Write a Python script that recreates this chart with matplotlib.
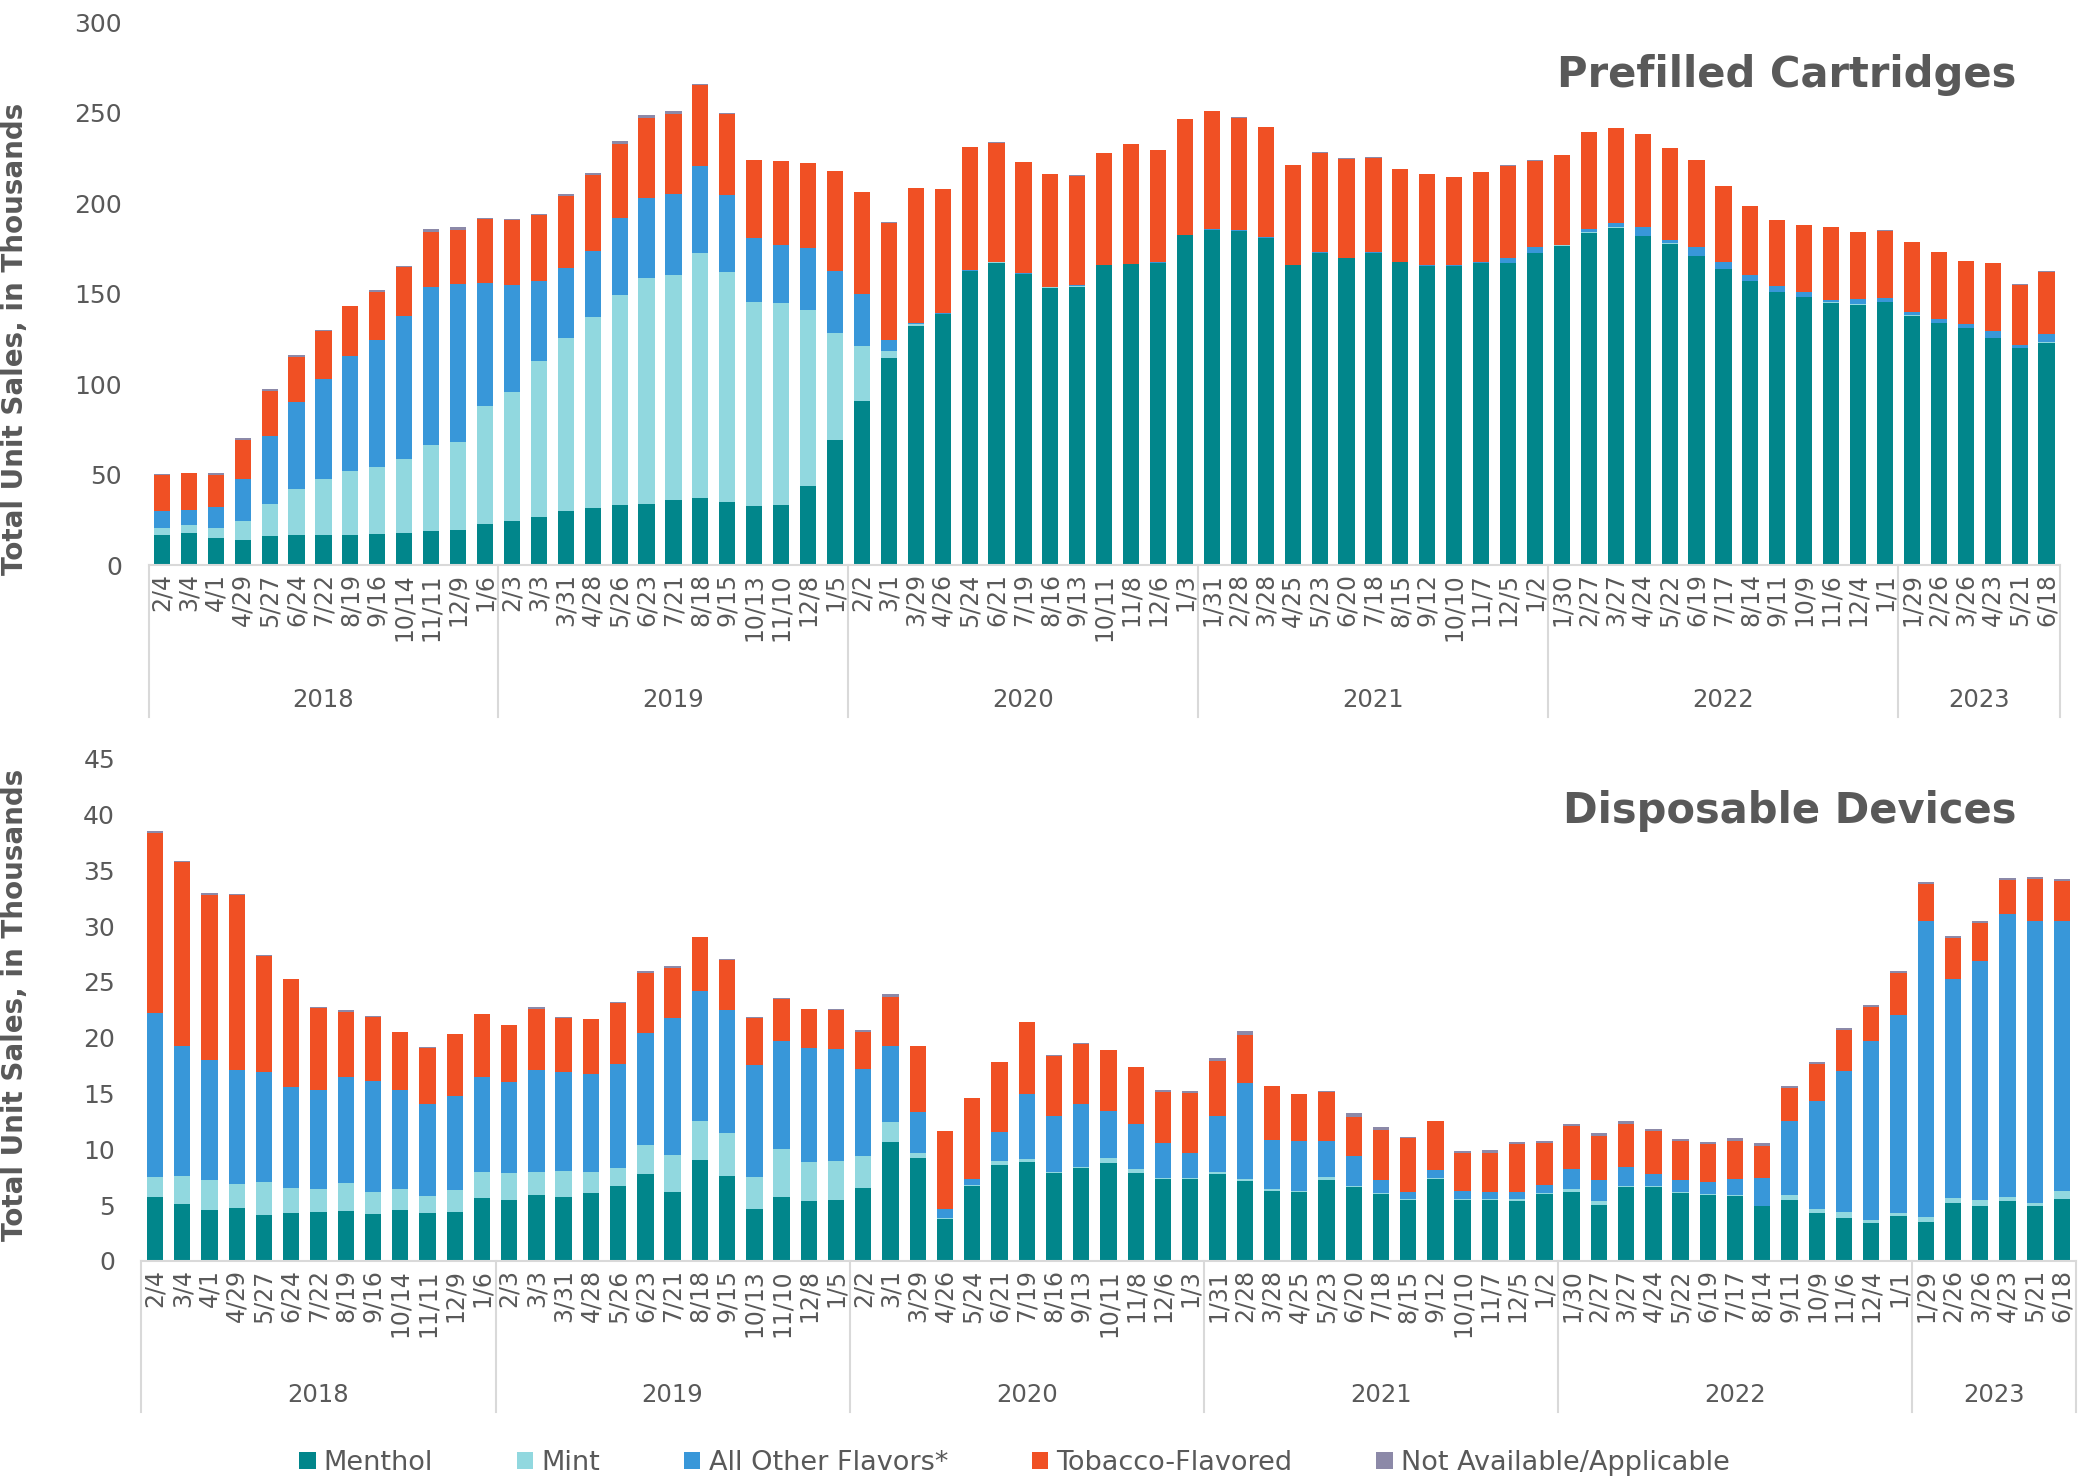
import matplotlib
matplotlib.use("Agg")
import matplotlib.pyplot as plt
import numpy as np
from matplotlib.patches import Patch
from matplotlib.transforms import blended_transform_factory

# period end dates, grouped by year (4-week periods)
years = ["2018", "2019", "2020", "2021", "2022", "2023"]
dates = [
    "2/4", "3/4", "4/1", "4/29", "5/27", "6/24", "7/22", "8/19", "9/16", "10/14", "11/11", "12/9", "1/6",
    "2/3", "3/3", "3/31", "4/28", "5/26", "6/23", "7/21", "8/18", "9/15", "10/13", "11/10", "12/8", "1/5",
    "2/2", "3/1", "3/29", "4/26", "5/24", "6/21", "7/19", "8/16", "9/13", "10/11", "11/8", "12/6", "1/3",
    "1/31", "2/28", "3/28", "4/25", "5/23", "6/20", "7/18", "8/15", "9/12", "10/10", "11/7", "12/5", "1/2",
    "1/30", "2/27", "3/27", "4/24", "5/22", "6/19", "7/17", "8/14", "9/11", "10/9", "11/6", "12/4", "1/1",
    "1/29", "2/26", "3/26", "4/23", "5/21", "6/18",
]
group_sizes = [13, 13, 13, 13, 13, 6]

# Prefilled cartridges (thousands)
pc_menthol = [
    16.4, 17.9, 14.9, 14.0, 16.0, 16.8, 16.4, 16.8, 17.4, 17.9, 18.7, 19.6, 22.8,
    24.5, 26.8, 29.8, 31.7, 33.0, 33.8, 35.7, 37.0, 34.9, 32.6, 33.4, 43.6, 69.1,
    90.9, 114.5, 132.1, 138.9, 162.6, 167.2, 160.9, 153.4, 154.0, 165.7, 166.2, 167.0, 182.3,
    185.3, 184.7, 180.9, 165.7, 172.6, 169.6, 172.6, 167.4, 165.3, 165.3, 167.0, 167.0, 172.3,
    176.6, 183.8, 186.6, 181.9, 177.7, 170.9, 163.6, 156.8, 151.1, 148.3, 145.1, 144.0, 145.3,
    137.9, 133.6, 131.1, 125.5, 119.8, 123.0,
]
pc_mint = [
    4.2, 4.0, 5.7, 10.5, 18.0, 25.5, 31.0, 35.1, 36.9, 40.6, 47.5, 48.3, 65.1,
    71.2, 86.0, 95.7, 105.5, 116.4, 124.9, 124.9, 135.3, 127.4, 113.1, 111.3, 97.5, 59.2,
    30.0, 3.6, 0.9, 0.1, 0.1, 0.1, 0.1, 0.1, 0.1, 0.1, 0.1, 0.1, 0.1,
    0.1, 0.1, 0.1, 0.1, 0.1, 0.1, 0.1, 0.1, 0.1, 0.1, 0.1, 0.1, 0.1,
    0.1, 0.1, 0.1, 0.1, 0.1, 0.1, 0.1, 0.1, 0.1, 0.1, 0.1, 0.1, 0.1,
    0.1, 0.1, 0.1, 0.1, 0.1, 0.1,
]
pc_other = [
    9.0, 8.5, 11.3, 23.2, 37.5, 47.7, 55.4, 63.6, 70.4, 79.4, 87.4, 87.4, 68.3,
    59.4, 44.0, 38.8, 36.6, 42.7, 44.1, 44.7, 48.1, 42.2, 35.2, 32.3, 34.0, 34.5,
    28.7, 6.6, 1.0, 0.2, 0.6, 0.2, 0.2, 0.2, 0.5, 0.2, 0.2, 0.2, 0.2,
    0.2, 0.3, 0.3, 0.3, 0.3, 0.3, 0.3, 0.3, 0.4, 0.5, 0.7, 2.5, 3.2,
    0.4, 1.9, 2.5, 4.9, 2.1, 5.1, 4.0, 3.6, 3.2, 2.8, 1.3, 3.2, 2.4,
    1.9, 2.3, 2.3, 4.0, 1.7, 4.9,
]
pc_tobacco = [
    20.4, 20.2, 17.9, 21.4, 24.7, 24.9, 26.8, 27.7, 26.2, 27.0, 30.7, 30.0, 35.3,
    35.8, 37.0, 39.7, 41.7, 40.9, 44.6, 44.3, 45.1, 45.1, 43.1, 46.2, 47.2, 55.1,
    56.8, 64.7, 74.5, 68.9, 67.6, 66.1, 61.6, 62.5, 60.7, 61.9, 66.3, 62.3, 64.2,
    65.5, 62.3, 61.0, 55.0, 55.1, 54.7, 52.3, 51.3, 50.4, 48.8, 49.6, 51.3, 48.0,
    49.5, 53.6, 52.3, 51.4, 50.5, 47.9, 41.9, 38.0, 36.5, 36.7, 40.3, 37.0, 37.1,
    38.6, 37.2, 34.6, 37.4, 33.5, 34.3,
]
pc_na = [
    0.3, 0.2, 1.3, 1.1, 1.0, 1.1, 0.2, 0.2, 1.2, 0.2, 1.4, 1.5, 0.3,
    0.2, 0.3, 1.3, 1.5, 1.5, 1.3, 1.5, 0.3, 0.3, 0.2, 0.2, 0.2, 0.2,
    0.1, 0.1, 0.1, 0.1, 0.1, 0.1, 0.1, 0.1, 0.1, 0.1, 0.1, 0.1, 0.1,
    0.1, 0.1, 0.1, 0.1, 0.1, 0.1, 0.1, 0.1, 0.1, 0.1, 0.1, 0.1, 0.1,
    0.1, 0.1, 0.1, 0.1, 0.1, 0.1, 0.1, 0.1, 0.1, 0.1, 0.1, 0.1, 0.1,
    0.1, 0.1, 0.1, 0.1, 0.1, 0.1,
]

# Disposable devices (thousands)
dd_menthol = [
    5.70, 5.11, 4.56, 4.74, 4.12, 4.29, 4.43, 4.50, 4.19, 4.56, 4.29, 4.43, 5.66,
    5.42, 5.87, 5.70, 6.07, 6.73, 7.82, 6.18, 9.03, 7.65, 4.63, 5.77, 5.39, 5.46,
    6.55, 10.64, 9.20, 3.77, 6.76, 8.58, 8.89, 7.89, 8.34, 8.75, 7.89, 7.38, 7.38,
    7.82, 7.14, 6.28, 6.21, 7.28, 6.59, 6.04, 5.46, 7.34, 5.46, 5.46, 5.39, 6.04,
    6.14, 5.01, 6.66, 6.66, 6.07, 5.94, 5.83, 4.91, 5.42, 4.29, 3.81, 3.43, 4.05,
    3.53, 5.15, 4.91, 5.35, 4.91, 5.59,
]
dd_mint = [
    1.82, 2.51, 2.72, 2.12, 2.91, 2.26, 1.99, 2.47, 2.02, 1.89, 1.54, 1.92, 2.34,
    2.47, 2.13, 2.36, 1.86, 1.57, 2.54, 3.33, 3.53, 3.78, 2.85, 4.22, 3.46, 3.50,
    2.82, 1.82, 0.44, 0.11, 0.05, 0.38, 0.24, 0.05, 0.05, 0.45, 0.38, 0.05, 0.05,
    0.14, 0.24, 0.21, 0.05, 0.20, 0.14, 0.05, 0.05, 0.05, 0.05, 0.05, 0.14, 0.05,
    0.28, 0.38, 0.07, 0.05, 0.11, 0.06, 0.05, 0.05, 0.45, 0.41, 0.62, 0.24, 0.24,
    0.45, 0.48, 0.51, 0.35, 0.31, 0.72,
]
dd_other = [
    14.68, 11.63, 10.74, 10.20, 9.89, 9.00, 8.89, 9.47, 9.92, 8.82, 8.27, 8.44, 8.44,
    8.17, 9.06, 8.86, 8.82, 9.37, 10.09, 12.28, 11.63, 11.05, 10.06, 9.67, 10.26, 10.02,
    7.86, 6.79, 3.74, 0.82, 0.53, 2.60, 5.80, 5.03, 5.68, 4.25, 3.98, 3.14, 2.25,
    5.01, 8.58, 4.39, 4.45, 3.26, 2.64, 1.15, 0.67, 0.78, 0.80, 0.67, 0.61, 0.74,
    1.78, 1.82, 1.68, 1.11, 1.10, 1.07, 1.43, 2.45, 6.66, 9.61, 12.59, 16.03, 17.71,
    26.49, 19.63, 21.42, 25.36, 25.22, 24.10,
]
dd_tobacco = [
    16.10, 16.44, 14.72, 15.75, 10.40, 9.67, 7.37, 5.83, 5.73, 5.22, 5.01, 5.53, 5.66,
    5.04, 5.49, 4.87, 4.90, 5.46, 5.32, 4.43, 4.81, 4.52, 4.22, 3.81, 3.44, 3.50,
    3.29, 4.43, 5.84, 6.90, 7.24, 6.25, 6.45, 5.42, 5.39, 5.42, 5.08, 4.56, 5.39,
    4.98, 4.29, 4.77, 4.22, 4.43, 3.53, 4.53, 4.84, 4.36, 3.40, 3.53, 4.36, 3.74,
    3.88, 4.01, 3.88, 3.81, 3.43, 3.40, 3.47, 2.92, 2.98, 3.36, 3.71, 3.09, 3.81,
    3.30, 3.67, 3.46, 3.02, 3.74, 3.60,
]
dd_na = [
    0.20, 0.17, 0.20, 0.05, 0.05, 0.05, 0.05, 0.17, 0.05, 0.05, 0.05, 0.05, 0.05,
    0.05, 0.17, 0.05, 0.05, 0.05, 0.17, 0.20, 0.05, 0.05, 0.05, 0.05, 0.05, 0.05,
    0.21, 0.20, 0.05, 0.05, 0.05, 0.05, 0.05, 0.05, 0.05, 0.05, 0.05, 0.18, 0.17,
    0.20, 0.37, 0.05, 0.05, 0.05, 0.31, 0.24, 0.05, 0.05, 0.17, 0.21, 0.17, 0.21,
    0.21, 0.21, 0.24, 0.18, 0.20, 0.20, 0.24, 0.21, 0.17, 0.18, 0.17, 0.17, 0.17,
    0.20, 0.21, 0.17, 0.20, 0.21, 0.20,
]

labels = ["Menthol", "Mint", "All Other Flavors*", "Tobacco-Flavored", "Not Available/Applicable"]
colors = ["#01868B", "#91D8DF", "#3897D9", "#F05024", "#8C89A8"]
grey = "#595959"
line_grey = "#D9D9D9"


def draw_panel(ax, series, ymax, ystep, year_y, sep_depth):
    x = np.arange(len(dates))
    bottom = np.zeros(len(dates))
    for vals, col in zip(series, colors):
        vals = np.array(vals)
        ax.bar(x, vals, 0.6, bottom=bottom, color=col, linewidth=0)
        bottom += vals

    ax.set_xlim(-0.5, len(dates) - 0.5)
    ax.set_ylim(0, ymax)
    ax.set_yticks(np.arange(0, ymax + 1, ystep))
    ax.tick_params(axis="y", length=0, pad=19, labelsize=18, labelcolor=grey)
    ax.set_xticks(x)
    ax.set_xticklabels(dates, rotation=90)
    ax.tick_params(axis="x", length=0, pad=6, labelsize=17, labelcolor=grey)

    for s in ["top", "right", "left"]:
        ax.spines[s].set_visible(False)
    ax.spines["bottom"].set_color(line_grey)
    ax.spines["bottom"].set_linewidth(1.5)

    # year grouping under the date labels
    trans = blended_transform_factory(ax.transData, ax.transAxes)
    start = -0.5
    for yr, n in zip(years, group_sizes):
        ax.plot([start, start], [0, -sep_depth], transform=trans, clip_on=False,
                color=line_grey, lw=1.5)
        ax.text(start + n / 2, year_y, yr, transform=trans, ha="center", va="center",
                fontsize=17.5, color=grey)
        start += n
    ax.plot([start, start], [0, -sep_depth], transform=trans, clip_on=False,
            color=line_grey, lw=1.5)


fig = plt.figure(figsize=(20.79, 14.80), dpi=100)

ax1 = fig.add_axes([148.5 / 2079, 1 - 565 / 1480, (2060 - 148.5) / 2079, (565 - 22.5) / 1480])
draw_panel(ax1, [pc_menthol, pc_mint, pc_other, pc_tobacco, pc_na], 300, 50, -0.249, 0.28)
ax1.set_ylabel("Total Unit Sales, in Thousands", fontsize=20, fontweight="bold", color=grey)
ax1.yaxis.set_label_coords(-0.0625, 0.417)

ax2 = fig.add_axes([141.4 / 2079, 1 - 1261 / 1480, (2075.6 - 141.4) / 2079, (1261 - 758.5) / 1480])
draw_panel(ax2, [dd_menthol, dd_mint, dd_other, dd_tobacco, dd_na], 45, 5, -0.267, 0.30)
ax2.set_ylabel("Total Unit Sales, in Thousands", fontsize=20, fontweight="bold", color=grey)
ax2.yaxis.set_label_coords(-0.058, 0.509)

fig.text(0.970, 0.949, "Prefilled Cartridges", ha="right", va="center",
         fontsize=30, fontweight="bold", color=grey)
fig.text(0.970, 0.452, "Disposable Devices", ha="right", va="center",
         fontsize=30, fontweight="bold", color=grey)

handles = [Patch(facecolor=c, edgecolor="none") for c in colors]
leg = fig.legend(handles, labels, loc="center", bbox_to_anchor=(0.488, 0.0115), ncol=5,
                 frameon=False, fontsize=19.5, handlelength=0.6, handleheight=0.6,
                 handletextpad=0.3, columnspacing=3.1)
for t in leg.get_texts():
    t.set_color(grey)

fig.savefig("out.png", dpi=100)
